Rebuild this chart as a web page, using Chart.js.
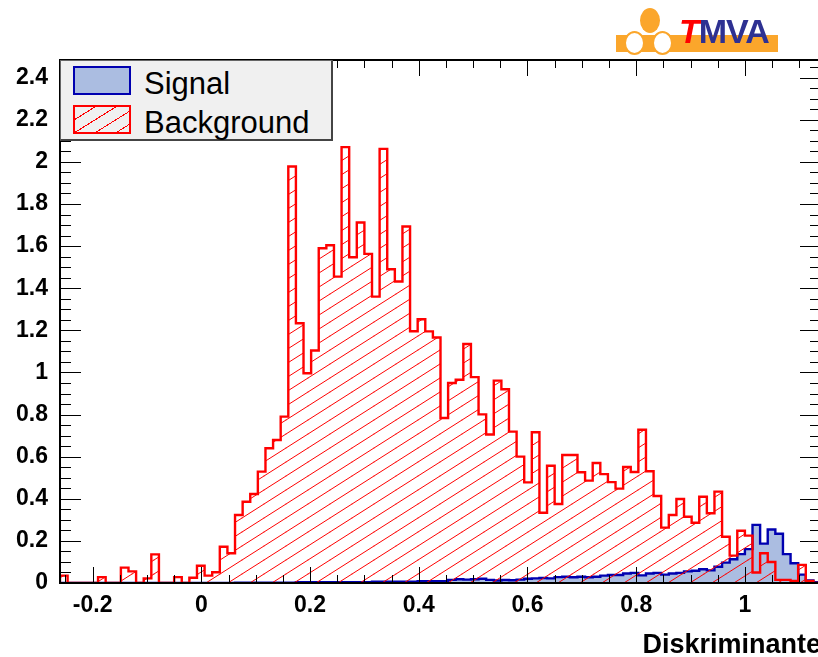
<!DOCTYPE html>
<html>
<head>
<meta charset="utf-8">
<script src="https://cdn.jsdelivr.net/npm/chart.js@4.4.1/dist/chart.umd.min.js"></script>
<style>
  body { margin: 0; overflow: hidden; background: #fff; font-family: "Liberation Sans", Arial, sans-serif; }
  #wrap { position: relative; width: 840px; height: 657px; }
  #c { position: absolute; left: 0; top: 0; }
  #legend { position: absolute; left: 60px; top: 60px; width: 270px; height: 78px;
    background: #f0f0f0; border: 1px solid #666; border-right: 2px solid #444; border-bottom: 2px solid #444; }
  .sw { position: absolute; left: 12px; width: 54px; height: 25px; }
  .sig { top: 5px; background: #abbde1; border: 2px solid #0000b0; }
  .bkg { top: 44px; border: 2px solid #ff0000;
    background: repeating-linear-gradient(148deg, transparent 0 10px, #ff0000 10px 11px); }
  .lt { position: absolute; left: 83px; font-size: 31px; color: #000; line-height: 31px; }
  #logo .bar { position: absolute; left: 616px; top: 35px; width: 162px; height: 17px; background: #fba62b; }
  #logo .head { position: absolute; left: 640px; top: 8px; width: 20px; height: 25px; border-radius: 50%; background: #fba62b; }
  #logo .ring { position: absolute; top: 31px; width: 17px; height: 20px; border-radius: 50%; background: #fff; border: 2px solid #fba62b; }
  #logo .txt { position: absolute; left: 679px; top: 12px; font-weight: bold; font-size: 34px; color: #2e3192; letter-spacing: -1px; }
  #logo .txt i { color: #ff0000; }
</style>
</head>
<body>
<div id="wrap">
  <canvas id="c" width="840" height="657"></canvas>
  <div id="legend">
    <div class="sw sig"></div><div class="lt" style="top:7px">Signal</div>
    <div class="sw bkg"></div><div class="lt" style="top:46px">Background</div>
  </div>
  <div id="logo">
    <div class="bar"></div>
    <div class="head"></div>
    <div class="ring" style="left:624px"></div>
    <div class="ring" style="left:652px"></div>
    <div class="txt"><i>T</i>MVA</div>
  </div>
</div>
<script>
// histogram binning
const xLow = -0.26;
const binWidth = 0.014;

// bin contents, 100 bins
const backgroundValues = [
  0.035, 0, 0, 0, 0, 0.028, 0, 0, 0.073, 0.055,
  0, 0.022, 0.136, 0, 0, 0.028, 0, 0.025, 0.082, 0.035,
  0.051, 0.172, 0.141, 0.323, 0.386, 0.423, 0.529, 0.640, 0.679, 0.790,
  1.978, 1.234, 0.996, 1.104, 1.590, 1.604, 1.455, 2.070, 1.547, 1.712,
  1.563, 1.360, 2.062, 1.490, 1.432, 1.693, 1.196, 1.253, 1.195, 1.166,
  0.784, 0.950, 0.965, 1.135, 0.978, 0.801, 0.705, 0.961, 0.920, 0.719,
  0.600, 0.478, 0.716, 0.334, 0.557, 0.375, 0.608, 0.608, 0.526, 0.486,
  0.570, 0.517, 0.479, 0.448, 0.551, 0.527, 0.728, 0.531, 0.413, 0.263,
  0.323, 0.399, 0.315, 0.286, 0.410, 0.331, 0.434, 0.220, 0.130, 0.248,
  0.225, 0.050, 0.141, 0.100, 0.015, 0.015, 0.010, 0.086, 0.010, 0
];
const signalValues = [
  0, 0, 0, 0, 0, 0, 0, 0, 0, 0,
  0, 0, 0, 0, 0, 0, 0, 0, 0, 0,
  0, 0, 0, 0.002, 0.002, 0.002, 0.002, 0.002, 0.002, 0.002,
  0.002, 0.004, 0.004, 0.004, 0.004, 0.004, 0.004, 0.004, 0.004, 0.004,
  0.004, 0.006, 0.006, 0.006, 0.006, 0.006, 0.006, 0.008, 0.008, 0.008,
  0.008, 0.015, 0.018, 0.016, 0.018, 0.020, 0.015, 0.012, 0.014, 0.013,
  0.016, 0.020, 0.022, 0.024, 0.022, 0.028, 0.030, 0.027, 0.030, 0.027,
  0.030, 0.035, 0.038, 0.038, 0.045, 0.048, 0.036, 0.045, 0.048, 0.040,
  0.045, 0.048, 0.055, 0.058, 0.065, 0.060, 0.077, 0.097, 0.113, 0.137,
  0.161, 0.276, 0.187, 0.254, 0.234, 0.137, 0.094, 0.040, 0.012, 0.004
];

// axis ticks
const xTickValues = [-0.2, 0, 0.2, 0.4, 0.6, 0.8, 1];
const yTickValues = [0, 0.2, 0.4, 0.6, 0.8, 1, 1.2, 1.4, 1.6, 1.8, 2, 2.2, 2.4];
const xMax = xLow + binWidth * backgroundValues.length;
const yMax = 2.484;

// step outline points: left edge of each bin + closing edge
const histPoints = (vals) => {
  const pts = [{x: xLow, y: 0}];
  vals.forEach((v, i) => pts.push({x: xLow + i * binWidth, y: v}));
  pts.push({x: xLow + vals.length * binWidth, y: 0});
  return pts;
};

const makeHatch = () => {
  const w = 22, h = 14;
  const c = document.createElement('canvas');
  c.width = w; c.height = h;
  const g = c.getContext('2d');
  g.strokeStyle = '#ff0000';
  g.lineWidth = 1;
  [[0,0],[w,0],[-w,0],[0,h],[0,-h]].forEach(([dx, dy]) => {
    g.beginPath();
    g.moveTo(dx - w, dy + 2 * h);
    g.lineTo(dx + 2 * w, dy - h);
    g.stroke();
  });
  return g.createPattern(c, 'repeat');
};

// inward ticks on all four sides + frame, like ROOT
const frameTicks = {
  id: 'frameTicks',
  afterDatasetsDraw(chart) {
    const {ctx, chartArea: a, scales: {x, y}} = chart;
    ctx.save();
    ctx.strokeStyle = '#000';
    ctx.lineWidth = 1;
    ctx.beginPath();
    for (let k = -6; k <= 23; k++) {
      const v = k * 0.05;
      if (v < xLow || v > xMax) continue;
      const px = Math.round(x.getPixelForValue(v)) + 0.5;
      const len = k % 4 === 0 ? 16 : 8;
      ctx.moveTo(px, a.bottom); ctx.lineTo(px, a.bottom - len);
      ctx.moveTo(px, a.top); ctx.lineTo(px, a.top + len);
    }
    for (let k = 0; k <= 49; k++) {
      const v = k * 0.05;
      if (v > yMax) continue;
      const py = Math.round(y.getPixelForValue(v)) + 0.5;
      const len = k % 4 === 0 ? 21 : 11;
      ctx.moveTo(a.left, py); ctx.lineTo(a.left + len, py);
      ctx.moveTo(a.right, py); ctx.lineTo(a.right - len, py);
    }
    ctx.stroke();
    ctx.lineWidth = 2;
    ctx.strokeRect(a.left, a.top, a.right - a.left, a.bottom - a.top);
    ctx.restore();
  }
};

const fmt = (v) => String(+Number(v).toFixed(1));

const ctx = document.getElementById('c').getContext('2d');

new Chart(ctx, {
  type: 'line',
  data: {
    datasets: [
      {
        label: 'Background',
        data: histPoints(backgroundValues),
        stepped: 'before',
        borderColor: '#ff0000',
        borderWidth: 2.4,
        backgroundColor: makeHatch(),
        fill: 'origin',
        pointRadius: 0
      },
      {
        label: 'Signal',
        data: histPoints(signalValues),
        stepped: 'before',
        borderColor: '#0000b0',
        borderWidth: 2.4,
        backgroundColor: '#abbde1',
        fill: 'origin',
        pointRadius: 0
      }
    ]
  },
  options: {
    responsive: false,
    animation: false,
    layout: { padding: { top: 60, right: 19, left: 0, bottom: 0 } },
    plugins: {
      legend: { display: false },
      tooltip: { enabled: false }
    },
    scales: {
      x: {
        type: 'linear',
        min: xLow,
        max: xMax,
        grid: { display: false, drawTicks: false },
        border: { display: false },
        afterBuildTicks: (s) => { s.ticks = xTickValues.map(v => ({value: v})); },
        afterFit: (s) => { s.height = 74; },
        ticks: {
          autoSkip: false, maxRotation: 0, padding: 9,
          color: '#000',
          font: { family: 'Liberation Sans', weight: 'bold', size: 23 },
          callback: (v) => fmt(v)
        },
        title: {
          display: true, text: 'Diskriminante', align: 'end', color: '#000',
          font: { family: 'Liberation Sans', weight: 'bold', size: 27 },
          padding: { top: 4, bottom: -5 }
        }
      },
      y: {
        min: 0,
        max: yMax,
        grid: { display: false, drawTicks: false },
        border: { display: false },
        afterBuildTicks: (s) => { s.ticks = yTickValues.map(v => ({value: v})); },
        afterFit: (s) => { s.width = 60; },
        ticks: {
          padding: 12, color: '#000',
          font: { family: 'Liberation Sans', weight: 'bold', size: 23 },
          callback: (v) => fmt(v)
        }
      }
    }
  },
  plugins: [frameTicks]
});
</script>
</body>
</html>
